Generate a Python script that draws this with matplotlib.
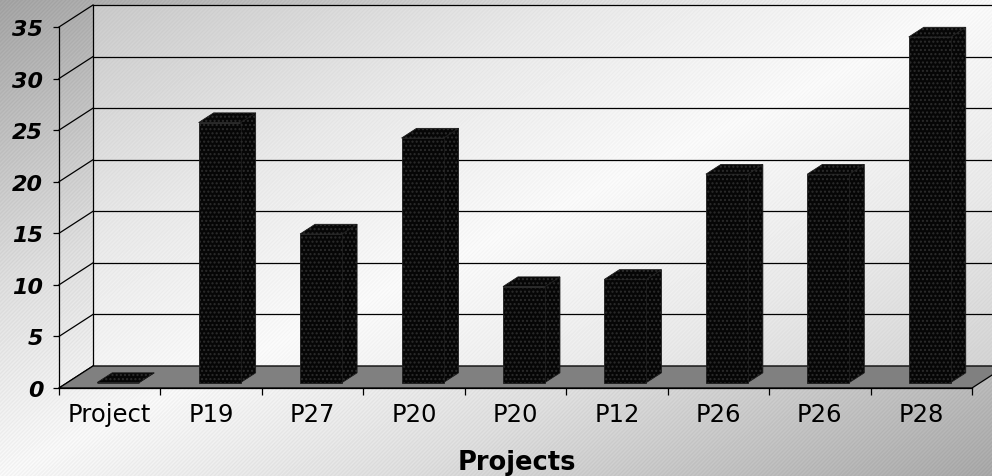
import numpy as np
import matplotlib
matplotlib.use("Agg")
import matplotlib.pyplot as plt
from matplotlib.patches import Polygon

plt.rcParams['font.family'] = ['DejaVu Sans']

# ---- data -------------------------------------------------------------
categories = ["Project", "P19", "P27", "P20", "P20", "P12", "P26", "P26", "P28"]
values = [0, 25.2, 14.4, 23.7, 9.3, 10.0, 20.2, 20.2, 33.5]
y_ticks = [0, 5, 10, 15, 20, 25, 30, 35]
x_title = "Projects"

# ---- figure & background ---------------------------------------------
W, H = 992, 477
fig = plt.figure(figsize=(W / 100, H / 100), dpi=100)

bg = fig.add_axes([0, 0, 1, 1])
bg.set_axis_off()
yy, xx = np.mgrid[0:H, 0:W]
t = (xx / W + yy / H) / 2.0
base = np.interp(t, [0, 0.3, 0.5, 0.7, 1.0], [162, 220, 246, 220, 166])
stripes = 4.5 * np.cos(2 * np.pi * (xx + yy) / 4.0)
img = np.clip(base + stripes, 0, 255) / 255.0
bg.imshow(img, cmap="gray", vmin=0, vmax=1, extent=[0, W, H, 0],
          aspect="auto", interpolation="nearest")
bg.set_xlim(0, W)
bg.set_ylim(H, 0)

# ---- plot axes (front plane) -----------------------------------------
n = len(categories)
ymax = y_ticks[-1]
ax_l, ax_r, ax_b, ax_t = 59, 972, 389, 28
ax = fig.add_axes([ax_l / W, (H - ax_b) / H, (ax_r - ax_l) / W, (ax_b - ax_t) / H])
ax.set_xlim(0, n)
ax.set_ylim(0, ymax)
ax.patch.set_alpha(0)

px_x = (ax_r - ax_l) / n          # pixels per category
px_y = (ax_b - ax_t) / ymax       # pixels per value unit
DX = 34 / px_x                    # depth offset (data units)
DY = 22 / px_y

# back wall
wall = Polygon([(DX, DY), (n + DX, DY), (n + DX, ymax + DY), (DX, ymax + DY)],
               closed=True, facecolor="white", alpha=0.35, edgecolor="none",
               clip_on=False, zorder=0.5)
ax.add_patch(wall)

# gridlines on back wall + side-wall diagonals
for v in y_ticks:
    ax.plot([DX, n + DX + 1], [v + DY, v + DY], color="black", lw=0.9,
            clip_on=False, zorder=1)
    ax.plot([0, DX], [v, v + DY], color="black", lw=0.9, clip_on=False, zorder=1)
ax.plot([DX, DX], [DY, ymax + DY], color="black", lw=0.9, clip_on=False, zorder=1)

# floor
floor = Polygon([(0, 0), (n, 0), (n + DX, DY), (DX, DY)], closed=True,
                facecolor="#808080", edgecolor="black", lw=0.9,
                clip_on=False, zorder=1.5)
ax.add_patch(floor)

# bars
BW = 0.414       # bar width (categories)
F = 0.25         # front position inside the depth
D = 0.44         # bar depth fraction
for i, v in enumerate(values):
    x0 = i + (1 - BW) / 2 + F * DX
    y0 = F * DY
    ddx, ddy = D * DX, D * DY
    faces = [
        [(x0 + BW, y0), (x0 + BW + ddx, y0 + ddy), (x0 + BW + ddx, y0 + v + ddy), (x0 + BW, y0 + v)],
        [(x0, y0 + v), (x0 + BW, y0 + v), (x0 + BW + ddx, y0 + v + ddy), (x0 + ddx, y0 + v + ddy)],
        [(x0, y0), (x0 + BW, y0), (x0 + BW, y0 + v), (x0, y0 + v)],
    ]
    for k, pts in enumerate(faces):
        ax.add_patch(Polygon(pts, closed=True, facecolor="#060606",
                             edgecolor="#1c1c1c", lw=0.6, clip_on=False,
                             zorder=3 + i * 0.01))
        ax.add_patch(Polygon(pts, closed=True, facecolor="none",
                             edgecolor="#2c2c2c", lw=0, hatch="....",
                             clip_on=False, zorder=3.001 + i * 0.01))

# axes styling
for s in ["top", "right"]:
    ax.spines[s].set_visible(False)
for s in ["left", "bottom"]:
    ax.spines[s].set_color("black")
    ax.spines[s].set_linewidth(0.9)
    ax.spines[s].set_zorder(2)

ax.set_yticks(y_ticks)
ax.set_yticklabels([str(v) for v in y_ticks], fontsize=16,
                   fontweight="bold", fontstyle="italic")
ax.tick_params(axis="y", direction="out", length=4.3, width=0.9, pad=7)

ax.set_xticks(range(n + 1))
ax.set_xticklabels([""] * (n + 1))
ax.tick_params(axis="x", which="major", direction="out", length=5, width=0.9)
ax.set_xticks([i + 0.5 for i in range(n)], minor=True)
ax.set_xticklabels(categories, minor=True, fontsize=17.5)
ax.tick_params(axis="x", which="minor", length=0, pad=10)

fig.text(517 / W, 1 - 463 / H, x_title, ha="center", va="center",
         fontsize=18.5, fontweight="bold")

fig.savefig("out.png", dpi=100)
